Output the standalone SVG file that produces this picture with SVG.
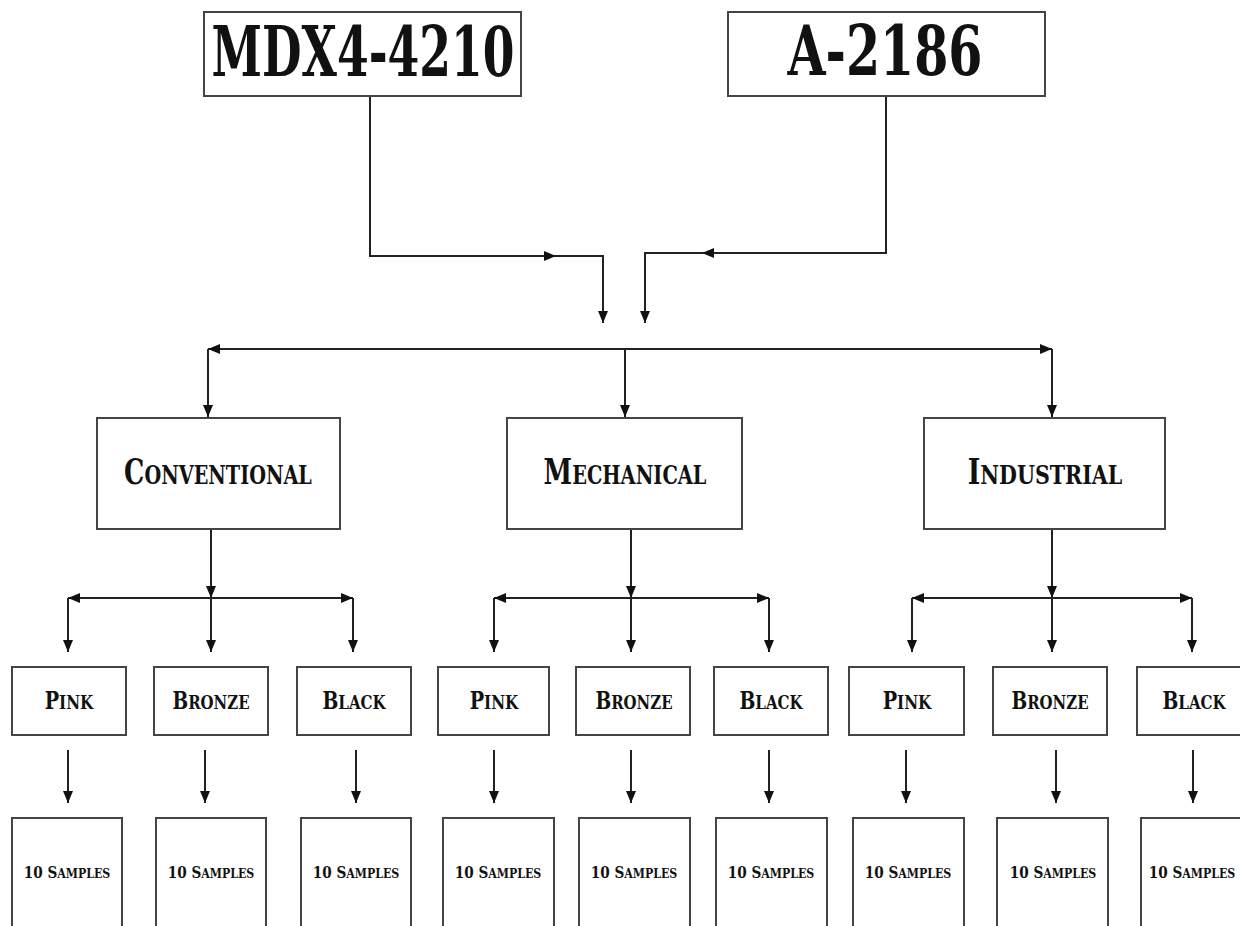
<svg xmlns="http://www.w3.org/2000/svg" width="1240" height="926" viewBox="0 0 1240 926">
<style>
.box{fill:#fff;stroke:#444;stroke-width:2}
.ln{fill:none;stroke:#222;stroke-width:2}
.t{font-family:"DejaVu Serif Condensed","DejaVu Serif","Liberation Serif",serif;font-weight:bold;fill:#111;font-variant:small-caps;text-anchor:middle}
.big{font-size:70px}
.mid{font-size:35px}
.mid .lc{font-size:38px}
.sm{font-size:24px}
.sm .lc{font-size:27px}
.xs{font-size:17px}
.xs .lc{font-size:19px}
</style>
<defs>
<marker id="ah" viewBox="0 0 12 10" refX="12" refY="5" markerWidth="12" markerHeight="10" markerUnits="userSpaceOnUse" orient="auto-start-reverse">
<path d="M0,0 L12,5 L0,10 Z" fill="#111"/>
</marker>
</defs>
<rect width="1240" height="926" fill="#fff"/>
<g id="connectors">
<path class="ln" d="M370,96 V256 H556" marker-end="url(#ah)"/>
<path class="ln" d="M556,256 H603 V323"/>
<path class="ln" d="M603,300 V323" marker-end="url(#ah)"/>
<path class="ln" d="M886,96 V253 H702" marker-end="url(#ah)"/>
<path class="ln" d="M702,253 H645 V323"/>
<path class="ln" d="M645,300 V323" marker-end="url(#ah)"/>
<path class="ln" d="M208,349 H1052" marker-start="url(#ah)" marker-end="url(#ah)"/>
<path class="ln" d="M208,349 V417" marker-end="url(#ah)"/>
<path class="ln" d="M625,349 V417" marker-end="url(#ah)"/>
<path class="ln" d="M1052,349 V417" marker-end="url(#ah)"/>
<path class="ln" d="M211,529 V598" marker-end="url(#ah)"/>
<path class="ln" d="M68,598 H353" marker-start="url(#ah)" marker-end="url(#ah)"/>
<path class="ln" d="M68,598 V652" marker-end="url(#ah)"/>
<path class="ln" d="M211,598 V652" marker-end="url(#ah)"/>
<path class="ln" d="M353,598 V652" marker-end="url(#ah)"/>
<path class="ln" d="M631,529 V598" marker-end="url(#ah)"/>
<path class="ln" d="M494,598 H769" marker-start="url(#ah)" marker-end="url(#ah)"/>
<path class="ln" d="M494,598 V652" marker-end="url(#ah)"/>
<path class="ln" d="M631,598 V652" marker-end="url(#ah)"/>
<path class="ln" d="M769,598 V652" marker-end="url(#ah)"/>
<path class="ln" d="M1052,529 V598" marker-end="url(#ah)"/>
<path class="ln" d="M912,598 H1192" marker-start="url(#ah)" marker-end="url(#ah)"/>
<path class="ln" d="M912,598 V652" marker-end="url(#ah)"/>
<path class="ln" d="M1052,598 V652" marker-end="url(#ah)"/>
<path class="ln" d="M1192,598 V652" marker-end="url(#ah)"/>
<path class="ln" d="M68,750 V803" marker-end="url(#ah)"/>
<path class="ln" d="M205,750 V803" marker-end="url(#ah)"/>
<path class="ln" d="M356,750 V803" marker-end="url(#ah)"/>
<path class="ln" d="M494,750 V803" marker-end="url(#ah)"/>
<path class="ln" d="M631,750 V803" marker-end="url(#ah)"/>
<path class="ln" d="M769,750 V803" marker-end="url(#ah)"/>
<path class="ln" d="M906,750 V803" marker-end="url(#ah)"/>
<path class="ln" d="M1056,750 V803" marker-end="url(#ah)"/>
<path class="ln" d="M1193,750 V803" marker-end="url(#ah)"/>
</g>
<g id="mdx">
<rect class="box" x="204" y="12" width="317" height="84"/>
<text class="t big" x="363" y="76" textLength="303" lengthAdjust="spacingAndGlyphs">MDX4-4210</text>
</g>
<g id="a2186">
<rect class="box" x="728" y="12" width="317" height="84"/>
<text class="t big" x="885" y="75" textLength="195" lengthAdjust="spacingAndGlyphs">A-2186</text>
</g>
<g id="conventional">
<rect class="box" x="97" y="418" width="243" height="111"/>
<text class="t mid" transform="translate(218,484) scale(0.81,1)">C<tspan class="lc">onventional</tspan></text>
</g>
<g id="mechanical">
<rect class="box" x="507" y="418" width="235" height="111"/>
<text class="t mid" transform="translate(625,484) scale(0.82,1)">M<tspan class="lc">echanical</tspan></text>
</g>
<g id="industrial">
<rect class="box" x="924" y="418" width="241" height="111"/>
<text class="t mid" transform="translate(1045,484) scale(0.85,1)">I<tspan class="lc">ndustrial</tspan></text>
</g>
<g id="c-pink"><rect class="box" x="12" y="667" width="114" height="68"/><text class="t sm" transform="translate(69,709) scale(0.89,1)">P<tspan class="lc">ink</tspan></text></g>
<g id="c-bronze"><rect class="box" x="154" y="667" width="114" height="68"/><text class="t sm" transform="translate(211,709) scale(0.86,1)">B<tspan class="lc">ronze</tspan></text></g>
<g id="c-black"><rect class="box" x="297" y="667" width="114" height="68"/><text class="t sm" transform="translate(354,709) scale(0.87,1)">B<tspan class="lc">lack</tspan></text></g>
<g id="m-pink"><rect class="box" x="438" y="667" width="111" height="68"/><text class="t sm" transform="translate(494,709) scale(0.89,1)">P<tspan class="lc">ink</tspan></text></g>
<g id="m-bronze"><rect class="box" x="576" y="667" width="114" height="68"/><text class="t sm" transform="translate(634,709) scale(0.86,1)">B<tspan class="lc">ronze</tspan></text></g>
<g id="m-black"><rect class="box" x="714" y="667" width="114" height="68"/><text class="t sm" transform="translate(771,709) scale(0.87,1)">B<tspan class="lc">lack</tspan></text></g>
<g id="i-pink"><rect class="box" x="849" y="667" width="115" height="68"/><text class="t sm" transform="translate(907,709) scale(0.89,1)">P<tspan class="lc">ink</tspan></text></g>
<g id="i-bronze"><rect class="box" x="993" y="667" width="114" height="68"/><text class="t sm" transform="translate(1050,709) scale(0.86,1)">B<tspan class="lc">ronze</tspan></text></g>
<g id="i-black"><rect class="box" x="1137" y="667" width="114" height="68"/><text class="t sm" transform="translate(1194,709) scale(0.87,1)">B<tspan class="lc">lack</tspan></text></g>
<g id="c-pink-s"><rect class="box" x="12" y="818" width="110" height="120"/><text class="t xs" transform="translate(67,878) scale(0.89,1)">10 S<tspan class="lc">amples</tspan></text></g>
<g id="c-bronze-s"><rect class="box" x="156" y="818" width="110" height="120"/><text class="t xs" transform="translate(211,878) scale(0.89,1)">10 S<tspan class="lc">amples</tspan></text></g>
<g id="c-black-s"><rect class="box" x="301" y="818" width="110" height="120"/><text class="t xs" transform="translate(356,878) scale(0.89,1)">10 S<tspan class="lc">amples</tspan></text></g>
<g id="m-pink-s"><rect class="box" x="443" y="818" width="111" height="120"/><text class="t xs" transform="translate(498,878) scale(0.89,1)">10 S<tspan class="lc">amples</tspan></text></g>
<g id="m-bronze-s"><rect class="box" x="579" y="818" width="111" height="120"/><text class="t xs" transform="translate(634,878) scale(0.89,1)">10 S<tspan class="lc">amples</tspan></text></g>
<g id="m-black-s"><rect class="box" x="716" y="818" width="111" height="120"/><text class="t xs" transform="translate(771,878) scale(0.89,1)">10 S<tspan class="lc">amples</tspan></text></g>
<g id="i-pink-s"><rect class="box" x="853" y="818" width="111" height="120"/><text class="t xs" transform="translate(908,878) scale(0.89,1)">10 S<tspan class="lc">amples</tspan></text></g>
<g id="i-bronze-s"><rect class="box" x="997" y="818" width="111" height="120"/><text class="t xs" transform="translate(1053,878) scale(0.89,1)">10 S<tspan class="lc">amples</tspan></text></g>
<g id="i-black-s"><rect class="box" x="1141" y="818" width="111" height="120"/><text class="t xs" transform="translate(1192,878) scale(0.89,1)">10 S<tspan class="lc">amples</tspan></text></g>
</svg>
